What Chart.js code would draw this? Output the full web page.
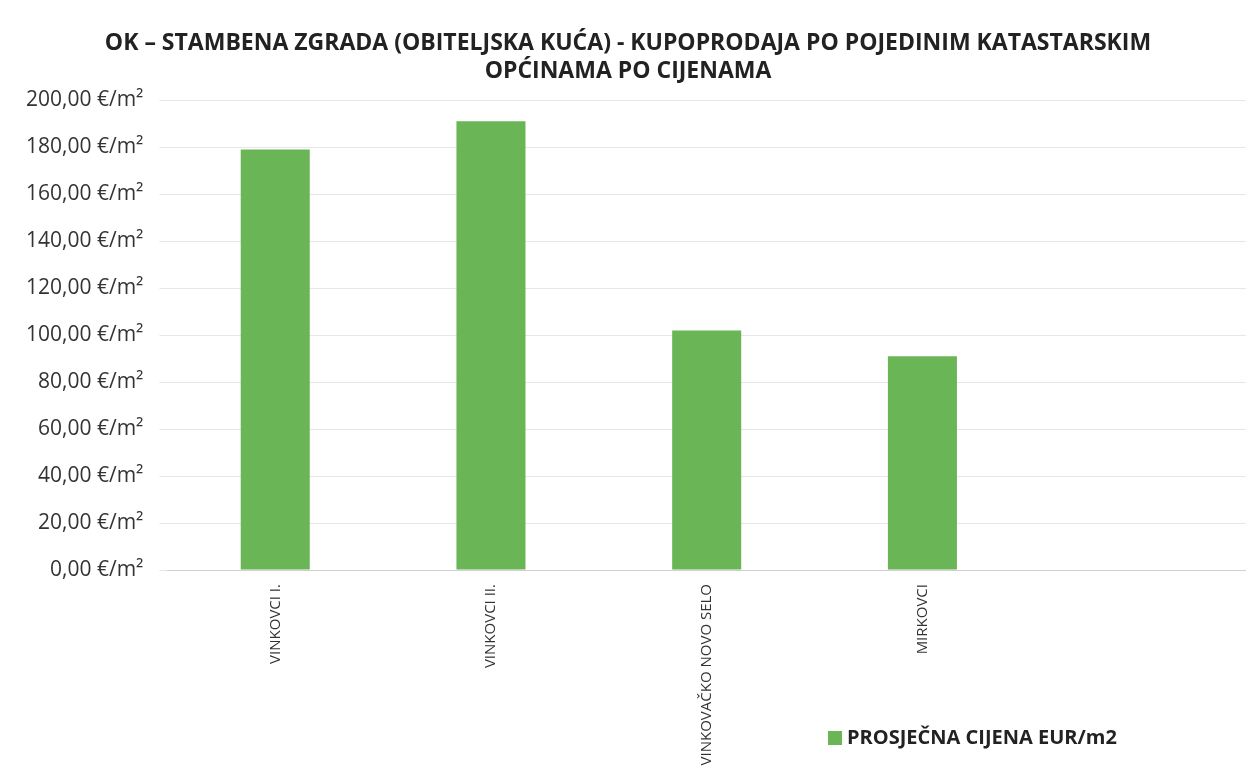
<!DOCTYPE html>
<html>
<head>
<meta charset="utf-8">
<script src="https://cdn.jsdelivr.net/npm/chart.js@4/dist/chart.umd.min.js"></script>
<style>
  html, body { margin: 0; padding: 0; background: #fff; }
  #wrap { width: 1246px; height: 767px; position: relative; }
</style>
</head>
<body>
<div id="wrap"><canvas id="barChart"></canvas></div>
<script>
// podaci očitani sa slike
const categories = ['VINKOVCI I.', 'VINKOVCI II.', 'VINKOVAČKO NOVO SELO', 'MIRKOVCI', ''];
const prices = [179, 191, 102, 91, null];
const seriesName = 'PROSJEČNA CIJENA EUR/m2';
const titleLines = ['OK – STAMBENA ZGRADA (OBITELJSKA KUĆA) - KUPOPRODAJA PO POJEDINIM KATASTARSKIM', 'OPĆINAMA PO CIJENAMA'];
const barColor = '#6ab556';

function formatPrice(v) {
    return v.toFixed(2).replace('.', ',') + ' €/m²';
}

// legenda dolje desno, kao na originalu
const bottomLegend = {
    id: 'bottomLegend',
    afterDraw(chart) {
        const ctx = chart.ctx;
        ctx.save();
        ctx.fillStyle = barColor;
        ctx.fillRect(828, 731, 14, 14);
        ctx.fillStyle = '#222';
        ctx.font = 'bold 20px "Open Sans", sans-serif';
        ctx.textBaseline = 'middle';
        ctx.fillText(chart.data.datasets[0].label, 847, 738);
        ctx.restore();
    }
};

new Chart(document.getElementById('barChart'), {
    type: 'bar',
    data: {
        labels: categories,
        datasets: [{
            label: seriesName,
            data: prices,
            backgroundColor: barColor,
            categoryPercentage: 1,
            barPercentage: 0.32
        }]
    },
    options: {
        responsive: true,
        maintainAspectRatio: false,
        animation: false,
        layout: { padding: { left: 10, right: 0, top: 30, bottom: 0 } },
        plugins: {
            legend: { display: false },
            tooltip: { enabled: false },
            title: {
                display: true,
                text: titleLines,
                color: '#222',
                font: { family: '"Liberation Sans Narrow", "Open Sans", sans-serif', size: 23, weight: 'bold' },
                padding: { top: 0, bottom: 15 },
                lineHeight: 1.6
            }
        },
        scales: {
            x: {
                grid: { display: false },
                border: { color: '#d0d0d0' },
                // dugi natpis ide do samog dna slike kao na originalu
                afterFit: scale => { scale.height = 197; },
                ticks: {
                    color: '#333',
                    font: { family: '"Open Sans", sans-serif', size: 15 },
                    minRotation: 90,
                    maxRotation: 90,
                    padding: 6,
                    autoSkip: false
                }
            },
            y: {
                min: 0,
                max: 200,
                border: { display: false },
                grid: { color: '#e6e6e6' },
                ticks: {
                    stepSize: 20,
                    color: '#333',
                    padding: 16,
                    font: { family: '"Open Sans", sans-serif', size: 21 },
                    callback: v => formatPrice(v)
                }
            }
        }
    },
    plugins: [bottomLegend]
});
</script>
</body>
</html>
